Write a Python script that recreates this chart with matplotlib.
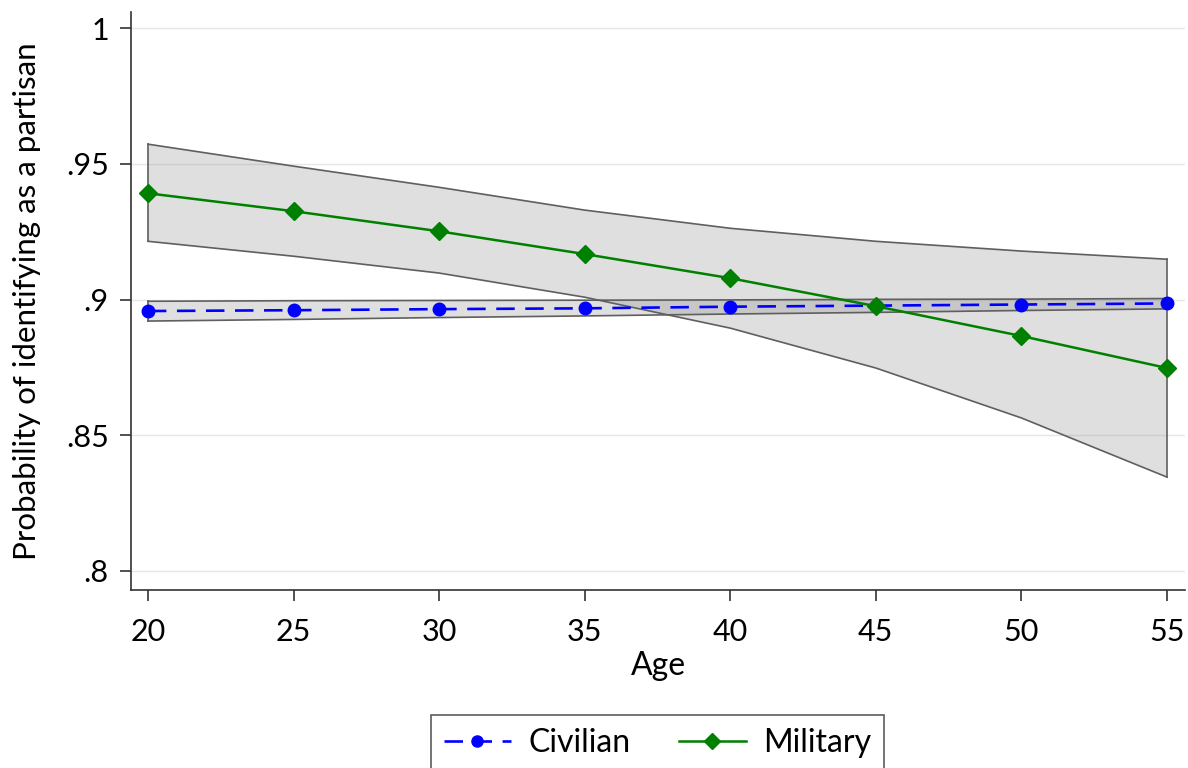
import matplotlib
matplotlib.use('Agg')
import matplotlib.pyplot as plt
import numpy as np

# 数据
ages = [20, 25, 30, 35, 40, 45, 50, 55]
civilian = [0.8958, 0.8961, 0.8965, 0.8968, 0.8974, 0.8978, 0.8982, 0.8986]
civilian_lo = [0.8921, 0.8927, 0.8934, 0.8940, 0.8947, 0.8953, 0.8960, 0.8966]
civilian_hi = [0.8994, 0.8996, 0.8997, 0.8998, 0.8999, 0.9001, 0.9002, 0.9004]
military = [0.9392, 0.9326, 0.9252, 0.9168, 0.9079, 0.8976, 0.8866, 0.8748]
military_lo = [0.9215, 0.9160, 0.9098, 0.9009, 0.8895, 0.8748, 0.8564, 0.8346]
military_hi = [0.9573, 0.9492, 0.9414, 0.9330, 0.9263, 0.9215, 0.9179, 0.9149]
yticks = [0.8, 0.85, 0.9, 0.95, 1.0]
yticklabels = ['.8', '.85', '.9', '.95', '1']

plt.rcParams['font.family'] = ['Lato', 'DejaVu Sans']

fig = plt.figure(figsize=(11.88, 7.68), dpi=100)
ax = fig.add_axes([0.1103, 0.2318, 0.8872, 0.7522])

# 置信区间
for lo, hi in [(civilian_lo, civilian_hi), (military_lo, military_hi)]:
    ax.fill_between(ages, lo, hi, facecolor='#808080', alpha=0.25,
                    edgecolor='none', zorder=2)
    ax.plot(ages, lo, color='#5f5f5f', lw=1.2, zorder=3)
    ax.plot(ages, hi, color='#5f5f5f', lw=1.2, zorder=3)
    ax.plot([ages[0], ages[0]], [lo[0], hi[0]], color='#5f5f5f', lw=1.2, zorder=3)
    ax.plot([ages[-1], ages[-1]], [lo[-1], hi[-1]], color='#5f5f5f', lw=1.2, zorder=3)

l1, = ax.plot(ages, civilian, color='#0000ff', lw=1.9, dashes=(7, 4),
              marker='o', markersize=9, label='Civilian', zorder=4)
l2, = ax.plot(ages, military, color='#008000', lw=1.8,
              marker='D', markersize=9, label='Military', zorder=5)

ax.set_xlim(19.42, 55.62)
ax.set_ylim(0.793, 1.0059)
ax.set_xticks(ages)
ax.set_yticks(yticks)
ax.set_yticklabels(yticklabels)
ax.tick_params(axis='both', labelsize=22, length=8, width=1.2, color='#333333')
ax.tick_params(axis='y', pad=8)
ax.tick_params(axis='x', pad=12)

for s in ['top', 'right']:
    ax.spines[s].set_visible(False)
for s in ['left', 'bottom']:
    ax.spines[s].set_color('#333333')
    ax.spines[s].set_linewidth(1.2)

ax.grid(axis='y', color='#e6e6e6', lw=1)
ax.set_axisbelow(True)

ax.set_xlabel('Age', fontsize=23, labelpad=4)
ax.set_ylabel('Probability of identifying as a partisan', fontsize=22.5, labelpad=18)

leg = fig.legend(handles=[l1, l2], loc='upper center', ncol=2,
                 bbox_to_anchor=(0.5535, 0.069), fontsize=23,
                 frameon=True, fancybox=False, edgecolor='#333333',
                 handlelength=2.1, handletextpad=0.55, columnspacing=1.5,
                 borderpad=0.4, borderaxespad=0)
leg.get_frame().set_linewidth(1.2)
for h in leg.legend_handles:
    h.set_markersize(8)

plt.savefig('out.png', dpi=100)
plt.close()
